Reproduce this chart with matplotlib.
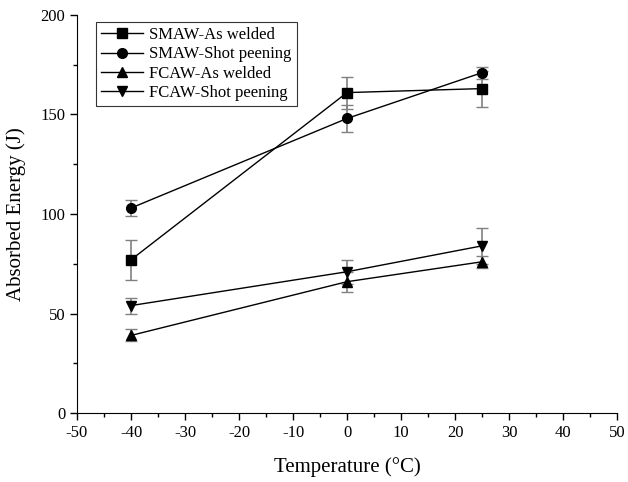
import numpy as np
import matplotlib
matplotlib.use("Agg")
import matplotlib.pyplot as plt
from matplotlib.ticker import MultipleLocator

plt.rcParams['font.family'] = ['Liberation Serif', 'DejaVu Serif']
plt.rcParams['axes.unicode_minus'] = False

temps = [-40, 0, 25]
smaw_aw = [77, 161, 163]
smaw_aw_err = [10, 8, 9]
smaw_sp = [103, 148, 171]
smaw_sp_err = [4, 7, 3]
fcaw_aw = [39, 66, 76]
fcaw_aw_err = [3, 5, 3]
fcaw_sp = [54, 71, 84]
fcaw_sp_err = [4, 6, 9]

series = [
    (smaw_aw, smaw_aw_err, 's', 'SMAW-As welded'),
    (smaw_sp, smaw_sp_err, 'o', 'SMAW-Shot peening'),
    (fcaw_aw, fcaw_aw_err, '^', 'FCAW-As welded'),
    (fcaw_sp, fcaw_sp_err, 'v', 'FCAW-Shot peening'),
]

fig = plt.figure(figsize=(6.28, 4.82), dpi=100)
ax = fig.add_axes([0.1226, 0.143, 0.86, 0.826])

handles, labels = [], []
for vals, errs, mk, lab in series:
    eb = ax.errorbar(temps, vals, yerr=errs, fmt='-' + mk, color='black',
                     ecolor='gray', elinewidth=1.2, capsize=4, capthick=1,
                     markersize=7, linewidth=1)
    for cap in eb[1]:
        cap.set_color('black')
    handles.append(eb[0])
    labels.append(lab)

ax.set_xlim(-50, 50)
ax.set_ylim(0, 200)
ax.xaxis.set_major_locator(MultipleLocator(10))
ax.xaxis.set_minor_locator(MultipleLocator(5))
ax.yaxis.set_major_locator(MultipleLocator(50))
ax.yaxis.set_minor_locator(MultipleLocator(25))
ax.tick_params(which='major', direction='out', length=5, width=1, labelsize=12)
ax.tick_params(which='minor', direction='out', length=3, width=1)
ax.spines['top'].set_visible(False)
ax.spines['right'].set_visible(False)

ax.set_xlabel('Temperature (°C)', fontsize=15, labelpad=12)
ax.set_ylabel('Absorbed Energy (J)', fontsize=15, labelpad=10)

leg = ax.legend(handles, labels, loc='upper left', bbox_to_anchor=(0.02, 1.003),
                fontsize=12, frameon=True, fancybox=False, edgecolor='black',
                handlelength=2.5, borderpad=0.3, labelspacing=0.2,
                handletextpad=0.4)
leg.get_frame().set_linewidth(0.8)

fig.savefig('out.png', dpi=100)
